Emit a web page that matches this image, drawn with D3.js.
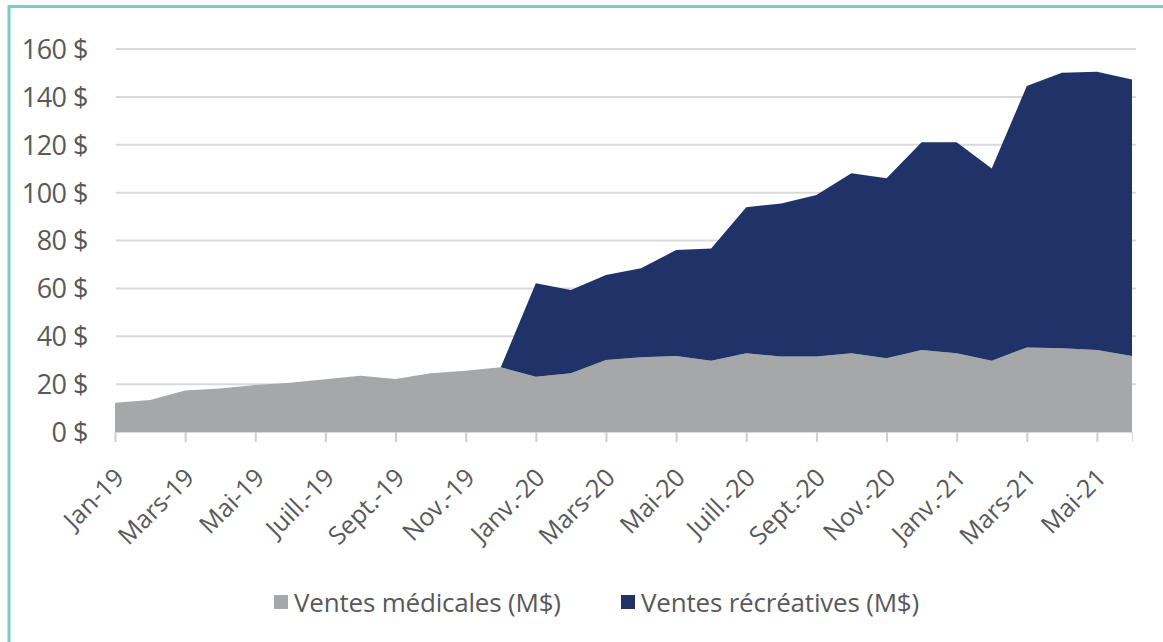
<!DOCTYPE html>
<html>
<head>
<meta charset="utf-8">
<script src="https://cdn.jsdelivr.net/npm/d3@7"></script>
<style>
  body { margin: 0; background: #fff; }
  svg text { font-family: "Open Sans", sans-serif; fill: #58595b; }
</style>
</head>
<body>
<svg id="chart" width="1163" height="642"></svg>
<script>
// mois (jan-19 -> juin-21)
const months = ["Jan-19","Févr.-19","Mars-19","Avr.-19","Mai-19","Juin-19","Juill.-19","Août-19","Sept.-19","Oct.-19","Nov.-19","Déc.-19",
  "Janv.-20","Févr.-20","Mars-20","Avr.-20","Mai-20","Juin-20","Juill.-20","Août-20","Sept.-20","Oct.-20","Nov.-20","Déc.-20",
  "Janv.-21","Févr.-21","Mars-21","Avr.-21","Mai-21","Juin-21"]

// ventes médicales (M$)
const medical = [12.2,13.4,17.3,18.2,19.6,20.6,22.0,23.5,22.1,24.5,25.6,27.0,
  23.1,24.5,30.1,31.2,31.7,29.8,32.9,31.5,31.5,32.9,30.8,34.3,
  32.9,29.8,35.3,35.0,34.3,31.7]

// ventes récréatives (M$)
const recreational = [0,0,0,0,0,0,0,0,0,0,0,0,
  39.0,34.8,35.5,37.2,44.3,46.9,61.0,64.0,67.5,75.2,75.2,86.7,
  88.1,80.3,109.2,115.1,116.2,115.6]

const yTicks = [0,20,40,60,80,100,120,140,160]
const labelMonths = months.filter((m, i) => i % 2 == 0)

const seriesNames = ["Ventes médicales (M$)", "Ventes récréatives (M$)"]
const colors = ["#a6a7a9", "#1f3369"]

const svg = d3.select('#chart')

// cadre (haut + gauche seulement)
svg.append('path')
  .attr('d', 'M9,642 V6.5 H1163')
  .attr('fill', 'none')
  .attr('stroke', '#79cccb')
  .attr('stroke-width', 3)

const x = d3.scalePoint().domain(months).range([115, 1132])
const y = d3.scaleLinear().domain([0, 160]).range([432, 49])

// grille
svg.append('g')
  .selectAll('line')
  .data(yTicks.filter(t => t > 0))
  .enter()
  .append('line')
  .attr('x1', 116).attr('x2', 1136)
  .attr('y1', d => y(d)).attr('y2', d => y(d))
  .attr('stroke', '#d9d9d9')
  .attr('stroke-width', 2)

// empilement
const rows = months.map((m, i) => ({ month: m, med: medical[i], rec: recreational[i] }))
const stack = d3.stack().keys(["med", "rec"])
const layers = stack(rows)

const area = d3.area()
  .x(d => x(d.data.month))
  .y0(d => y(d[0]))
  .y1(d => y(d[1]))

svg.append('g')
  .selectAll('path')
  .data(layers)
  .enter()
  .append('path')
  .attr('d', area)
  .attr('fill', (d, i) => colors[i])

// axe y
const yAxis = d3.axisLeft(y)
  .tickValues(yTicks)
  .tickSize(0)
  .tickPadding(0)
  .tickFormat(d => d + " $")

const gy = svg.append('g')
  .attr('transform', 'translate(88,0)')
  .call(yAxis)
gy.select('.domain').remove()
gy.selectAll('text')
  .attr('font-size', '27px')
  .attr('letter-spacing', '-0.5px')
  .attr('dy', '0.35em')

// axe x
const xAxis = d3.axisBottom(x)
  .tickValues(labelMonths)
  .tickSize(10)
  .tickPadding(0)

const gx = svg.append('g')
  .attr('transform', 'translate(0,432)')
  .call(xAxis)
gx.select('.domain').attr('stroke', '#d9d9d9').attr('stroke-width', 1)
gx.selectAll('.tick line').attr('stroke', '#cfcfcf').attr('stroke-width', 2)
gx.selectAll('text')
  .attr('font-size', '25px')
  .attr('text-anchor', 'end')
  .attr('dy', '0')
  .attr('transform', 'translate(3,40) rotate(-45)')

// légende
const legend = svg.append('g')
const legendX = [274, 621]
seriesNames.forEach((name, i) => {
  legend.append('rect')
    .attr('x', legendX[i]).attr('y', 595)
    .attr('width', 14).attr('height', 14)
    .attr('fill', colors[i])
  legend.append('text')
    .attr('x', legendX[i] + 20).attr('y', 603)
    .attr('dy', '0.35em')
    .attr('font-size', '26px')
    .attr('letter-spacing', '-0.2px')
    .text(name)
})
</script>
</body>
</html>
